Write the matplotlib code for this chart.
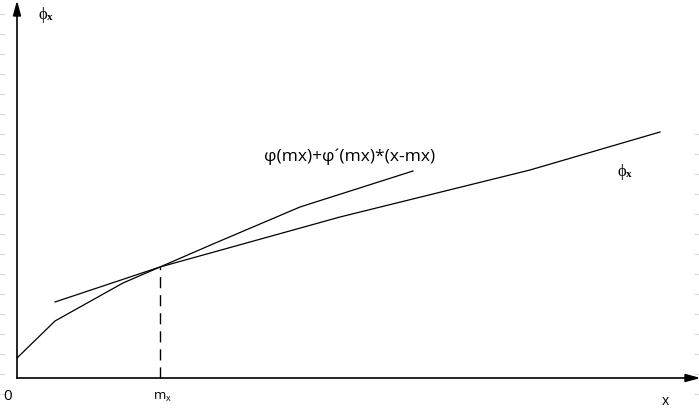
import numpy as np
import matplotlib.pyplot as plt

# origin of the sketch sits at pixel (17, 379); values below are in "sketch units"
curve_x = [0, 38, 106, 143, 196, 283, 396]
curve_y = [20, 57, 95, 111, 134, 171, 207]

phi_x = [38, 143, 323, 513, 643]
phi_y = [76, 111, 161, 208, 246]

mx = 143
phi_mx = 111

fig = plt.figure(figsize=(6.99, 4.10), dpi=100)
ax = fig.add_axes([0, 0, 1, 1])
ax.set_xlim(-17, 682)
ax.set_ylim(-31, 379)
ax.axis('off')

# faint scan marks along the page edges
for yy in np.arange(-16, 380, 20):
    ax.plot([-17, -13], [yy, yy], color='#d8d8d8', lw=0.8)
for yy in np.arange(-16, 250, 20):
    ax.plot([678, 682], [yy, yy], color='#d8d8d8', lw=0.8)

# axes with arrow heads
ax.plot([0, 0], [0, 364], color='black', lw=1.2)
ax.plot([0, 670], [0, 0], color='black', lw=1.2)
ax.fill([-3.5, 3.5, 0], [362, 362, 375], color='black')
ax.fill([668, 668, 681], [-3.5, 3.5, 0], color='black')

ax.plot(curve_x, curve_y, color='black', lw=0.9)
ax.plot(phi_x, phi_y, color='black', lw=0.9)
ax.plot([mx, mx], [0, phi_mx], color='black', lw=1.0, dashes=(8, 5))

font = ['Open Sans', 'DejaVu Sans']
serif = ['Liberation Serif', 'DejaVu Serif']


def phi_label(x, y):
    ax.text(x, y, '\u03d5', fontsize=12, family=serif, ha='center', va='center')
    ax.text(x + 7, y - 3, 'x', fontsize=8, family=serif, weight='bold',
            ha='center', va='center')


phi_label(26, 364)
phi_label(605, 207)
ax.text(333, 222, "φ(mx)+φ\u00b4(mx)*(x-mx)", fontsize=12.5, family=font,
        ha='center', va='center')
ax.text(-9, -18, '0', fontsize=11, family=font, ha='center', va='center')
ax.text(mx, -17, 'm', fontsize=9.5, family=font, ha='center', va='center')
ax.text(mx + 8.5, -20, 'x', fontsize=6.5, family=font, ha='center', va='center')
ax.text(648, -23, 'x', fontsize=10, family=font, ha='center', va='center')

fig.savefig('out.png', dpi=100)
